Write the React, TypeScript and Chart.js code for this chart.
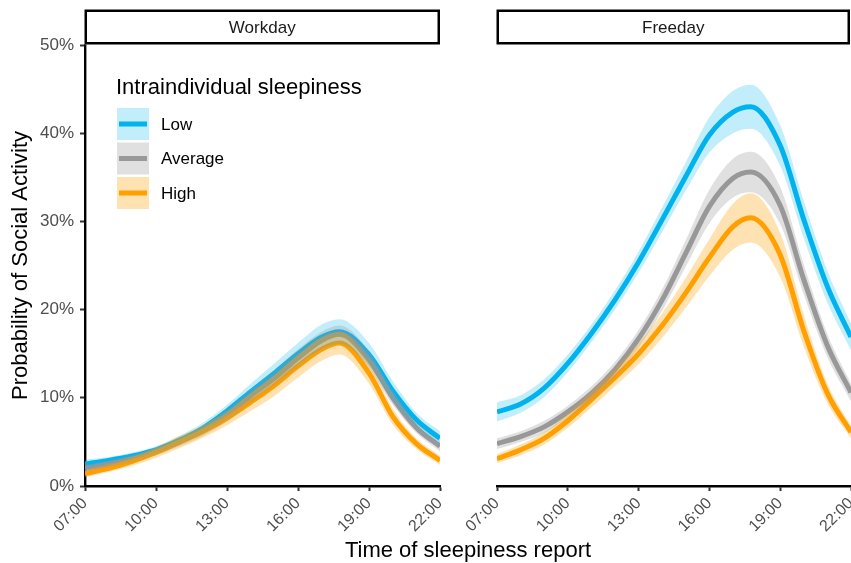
import { useEffect, useRef } from "react";
import { Chart, registerables } from "chart.js";
Chart.register(...registerables);

// ---------- data ----------
const HOURS = [7, 8, 9, 10, 11, 12, 13, 14, 15, 16, 17, 17.75, 19, 20, 21, 22];
const X_TICKS = [7, 10, 13, 16, 19, 22];
const Y_TICKS = [0, 10, 20, 30, 40, 50];
const SERIES = ["Low", "Average", "High"];
const PANELS = ["Workday", "Freeday"];
const LEGEND_TITLE = "Intraindividual sleepiness";
const Y_TITLE = "Probability of Social Activity";
const X_TITLE = "Time of sleepiness report";

// Workday (percent)
const workLow = [2.5, 2.9, 3.4, 4.1, 5.2, 6.6, 8.5, 10.7, 12.8, 15.0, 16.9, 17.5, 14.9, 10.8, 7.5, 5.4];
const workLowHi = [3.0, 3.3, 3.8, 4.5, 5.7, 7.2, 9.2, 11.6, 13.9, 16.2, 18.3, 18.9, 16.2, 11.9, 8.3, 6.2];
const workLowLo = [2.0, 2.5, 3.0, 3.7, 4.7, 6.0, 7.8, 9.8, 11.7, 13.8, 15.5, 16.1, 13.6, 9.7, 6.7, 4.7];
const workAvg = [2.0, 2.5, 3.1, 3.9, 5.0, 6.3, 8.0, 10.2, 12.2, 14.5, 16.5, 17.2, 14.3, 10.0, 6.6, 4.5];
const workAvgHi = [2.4, 2.9, 3.5, 4.3, 5.5, 6.9, 8.7, 11.0, 13.1, 15.5, 17.5, 18.2, 15.3, 10.8, 7.2, 5.1];
const workAvgLo = [1.6, 2.1, 2.7, 3.5, 4.5, 5.7, 7.3, 9.4, 11.3, 13.5, 15.5, 16.2, 13.3, 9.2, 6.0, 3.9];
const workHigh = [1.4, 2.0, 2.8, 3.8, 5.0, 6.2, 7.7, 9.5, 11.4, 13.6, 15.5, 16.2, 12.8, 7.9, 4.8, 2.9];
const workHighHi = [1.8, 2.5, 3.3, 4.4, 5.7, 6.9, 8.5, 10.5, 12.6, 14.9, 16.9, 17.5, 14.0, 8.8, 5.4, 3.4];
const workHighLo = [1.0, 1.6, 2.3, 3.2, 4.3, 5.5, 6.9, 8.5, 10.2, 12.3, 14.2, 14.9, 11.6, 7.0, 4.2, 2.4];

// Freeday (percent)
const freeLow = [8.4, 9.3, 11.1, 13.9, 17.3, 21.1, 25.4, 30.2, 35.1, 39.8, 42.4, 43.0, 38.6, 30.2, 22.6, 16.9];
const freeLowHi = [9.5, 10.3, 12.1, 14.9, 18.3, 22.2, 26.6, 31.6, 36.7, 41.8, 44.8, 45.5, 40.9, 32.3, 24.4, 18.4];
const freeLowLo = [7.3, 8.3, 10.1, 12.9, 16.3, 20.0, 24.2, 28.8, 33.5, 37.8, 40.0, 40.5, 36.3, 28.1, 20.8, 15.4];
const freeAvg = [4.8, 5.6, 6.7, 8.4, 10.5, 13.2, 16.7, 21.1, 26.4, 31.7, 34.9, 35.6, 31.8, 23.4, 15.9, 10.6];
const freeAvgHi = [5.4, 6.2, 7.4, 9.1, 11.3, 14.1, 17.7, 22.3, 27.9, 33.6, 37.1, 37.9, 33.9, 25.1, 17.2, 11.6];
const freeAvgLo = [4.2, 5.0, 6.0, 7.7, 9.7, 12.3, 15.7, 19.9, 24.9, 29.8, 32.7, 33.3, 29.7, 21.7, 14.6, 9.6];
const freeHigh = [3.1, 4.1, 5.4, 7.4, 9.8, 12.3, 15.0, 18.2, 21.9, 25.9, 29.4, 30.4, 26.2, 17.6, 10.5, 6.1];
const freeHighHi = [3.6, 4.7, 6.1, 8.2, 10.7, 13.3, 16.2, 19.6, 23.6, 28.0, 32.0, 33.2, 28.7, 19.4, 11.6, 6.8];
const freeHighLo = [2.6, 3.5, 4.7, 6.6, 8.9, 11.3, 13.8, 16.8, 20.2, 23.8, 26.8, 27.6, 23.7, 15.8, 9.4, 5.4];

// ---------- styles ----------
const FONT = '"Liberation Sans", Arial, Helvetica, sans-serif';
const LINE_COLORS = ["#00B2EE", "#999999", "#FFA000"];
const RIBBON_COLORS = ["rgba(0,178,238,0.24)", "rgba(153,153,153,0.3)", "rgba(255,160,0,0.3)"];
const W = 851;
const H = 563;

const pts = (ys: number[]) => HOURS.map((x, i) => ({ x, y: ys[i] }));
const fmtHour = (v: number) => String(v).padStart(2, "0") + ":00";

function buildDatasets(means: number[][], los: number[][], his: number[][]) {
  const ds: any[] = [];
  for (let i = 0; i < SERIES.length; i++) {
    ds.push({
      label: SERIES[i] + " upper",
      data: pts(his[i]),
      borderWidth: 0,
      pointRadius: 0,
      backgroundColor: RIBBON_COLORS[i],
      fill: "+1",
      cubicInterpolationMode: "monotone",
      order: 3 - i,
    });
    ds.push({
      label: SERIES[i] + " lower",
      data: pts(los[i]),
      borderWidth: 0,
      pointRadius: 0,
      fill: false,
      cubicInterpolationMode: "monotone",
      order: 3 - i,
    });
  }
  for (let i = 0; i < SERIES.length; i++) {
    ds.push({
      label: SERIES[i],
      data: pts(means[i]),
      borderColor: LINE_COLORS[i],
      borderWidth: 5,
      pointRadius: 0,
      fill: false,
      cubicInterpolationMode: "monotone",
      order: 6 - i,
    });
  }
  return ds;
}

function stripPlugin(name: string) {
  return {
    id: "strip_" + name,
    afterDraw(chart: any) {
      const { ctx, chartArea } = chart;
      ctx.save();
      const lw = 2.5;
      const x0 = chartArea.left - 0.5;
      const x1 = Math.min(chartArea.right, W - 1);
      const y0 = 9.5;
      const y1 = chartArea.top - 0.5;
      ctx.fillStyle = "#FFFFFF";
      ctx.fillRect(x0, y0, x1 - x0, y1 - y0);
      ctx.lineWidth = lw;
      ctx.strokeStyle = "#000000";
      ctx.strokeRect(x0 + lw / 2, y0 + lw / 2, x1 - x0 - lw, y1 - y0 - lw);
      ctx.fillStyle = "#1A1A1A";
      ctx.font = `17px ${FONT}`;
      ctx.textAlign = "center";
      ctx.textBaseline = "middle";
      ctx.fillText(name, (x0 + x1) / 2, (y0 + y1) / 2 + 1);
      ctx.restore();
    },
  };
}

const legendPlugin = {
  id: "legendInside",
  afterDraw(chart: any) {
    const { ctx } = chart;
    ctx.save();
    ctx.fillStyle = "#000000";
    ctx.font = `22px ${FONT}`;
    ctx.textAlign = "left";
    ctx.textBaseline = "alphabetic";
    ctx.fillText(LEGEND_TITLE, 116, 94);
    for (let i = 0; i < SERIES.length; i++) {
      const y0 = 108 + i * 34.5;
      ctx.fillStyle = RIBBON_COLORS[i];
      ctx.fillRect(117, y0, 32, 32);
      ctx.strokeStyle = LINE_COLORS[i];
      ctx.lineWidth = 5;
      ctx.beginPath();
      ctx.moveTo(119, y0 + 16);
      ctx.lineTo(147, y0 + 16);
      ctx.stroke();
      ctx.fillStyle = "#000000";
      ctx.font = `17px ${FONT}`;
      ctx.textBaseline = "middle";
      ctx.fillText(SERIES[i], 161, y0 + 17);
      ctx.textBaseline = "alphabetic";
    }
    ctx.restore();
  },
};

const xTitlePlugin = {
  id: "xTitle",
  afterDraw(chart: any) {
    const { ctx } = chart;
    ctx.save();
    ctx.fillStyle = "#000000";
    ctx.font = `22px ${FONT}`;
    ctx.textAlign = "center";
    ctx.textBaseline = "alphabetic";
    ctx.fillText(X_TITLE, 468, 557);
    ctx.restore();
  },
};

function makeOptions(showY: boolean, padLeft: number, padRight: number): any {
  return {
    responsive: false,
    animation: false,
    events: [],
    layout: { padding: { left: padLeft, right: padRight, top: 45, bottom: 0 } },
    plugins: { legend: { display: false }, tooltip: { enabled: false }, title: { display: false } },
    scales: {
      x: {
        type: "linear",
        min: 7,
        max: 22,
        afterBuildTicks: (s: any) => {
          s.ticks = X_TICKS.map((v) => ({ value: v }));
        },
        afterFit: (s: any) => {
          s.height = 77;
          s.paddingLeft = 0;
          s.paddingRight = 0;
        },
        ticks: {
          callback: (v: any) => fmtHour(Number(v)),
          color: "#4D4D4D",
          font: { family: FONT, size: 16 },
          minRotation: 45,
          maxRotation: 45,
          padding: 3,
          autoSkip: false,
        },
        grid: {
          drawOnChartArea: false,
          drawTicks: true,
          tickLength: 5,
          tickColor: "#333333",
          tickWidth: 2,
        },
        border: { display: true, color: "#000000", width: 2.4 },
      },
      y: {
        type: "linear",
        min: 0,
        max: 50,
        display: showY,
        afterBuildTicks: (s: any) => {
          s.ticks = Y_TICKS.map((v) => ({ value: v }));
        },
        afterFit: (s: any) => {
          if (showY) s.width = 85;
        },
        ticks: {
          callback: (v: any) => v + "%",
          color: "#4D4D4D",
          font: { family: FONT, size: 17 },
          padding: 6,
        },
        grid: {
          drawOnChartArea: false,
          drawTicks: true,
          tickLength: 5,
          tickColor: "#333333",
          tickWidth: 2,
        },
        border: { display: true, color: "#000000", width: 2.4 },
        title: {
          display: true,
          text: Y_TITLE,
          color: "#000000",
          font: { family: FONT, size: 22 },
          padding: { top: 8, bottom: 0 },
        },
      },
    },
  };
}

export default function App() {
  const leftRef = useRef<HTMLCanvasElement | null>(null);
  const rightRef = useRef<HTMLCanvasElement | null>(null);

  useEffect(() => {
    document.body.style.margin = "0";
    const left = new Chart(leftRef.current as HTMLCanvasElement, {
      type: "line",
      data: {
        datasets: buildDatasets(
          [workLow, workAvg, workHigh],
          [workLowLo, workAvgLo, workHighLo],
          [workLowHi, workAvgHi, workHighHi]
        ),
      },
      options: makeOptions(true, 0, W - 440),
      plugins: [stripPlugin(PANELS[0]), legendPlugin, xTitlePlugin],
    } as any);
    const right = new Chart(rightRef.current as HTMLCanvasElement, {
      type: "line",
      data: {
        datasets: buildDatasets(
          [freeLow, freeAvg, freeHigh],
          [freeLowLo, freeAvgLo, freeHighLo],
          [freeLowHi, freeAvgHi, freeHighHi]
        ),
      },
      options: makeOptions(false, 497, 0),
      plugins: [stripPlugin(PANELS[1])],
    } as any);
    return () => {
      left.destroy();
      right.destroy();
    };
  }, []);

  return (
    <div style={{ position: "relative", width: W, height: H, overflow: "hidden", background: "#FFFFFF" }}>
      <canvas ref={leftRef} width={W} height={H} style={{ position: "absolute", left: 0, top: 0 }} />
      <canvas ref={rightRef} width={W} height={H} style={{ position: "absolute", left: 0, top: 0 }} />
    </div>
  );
}
